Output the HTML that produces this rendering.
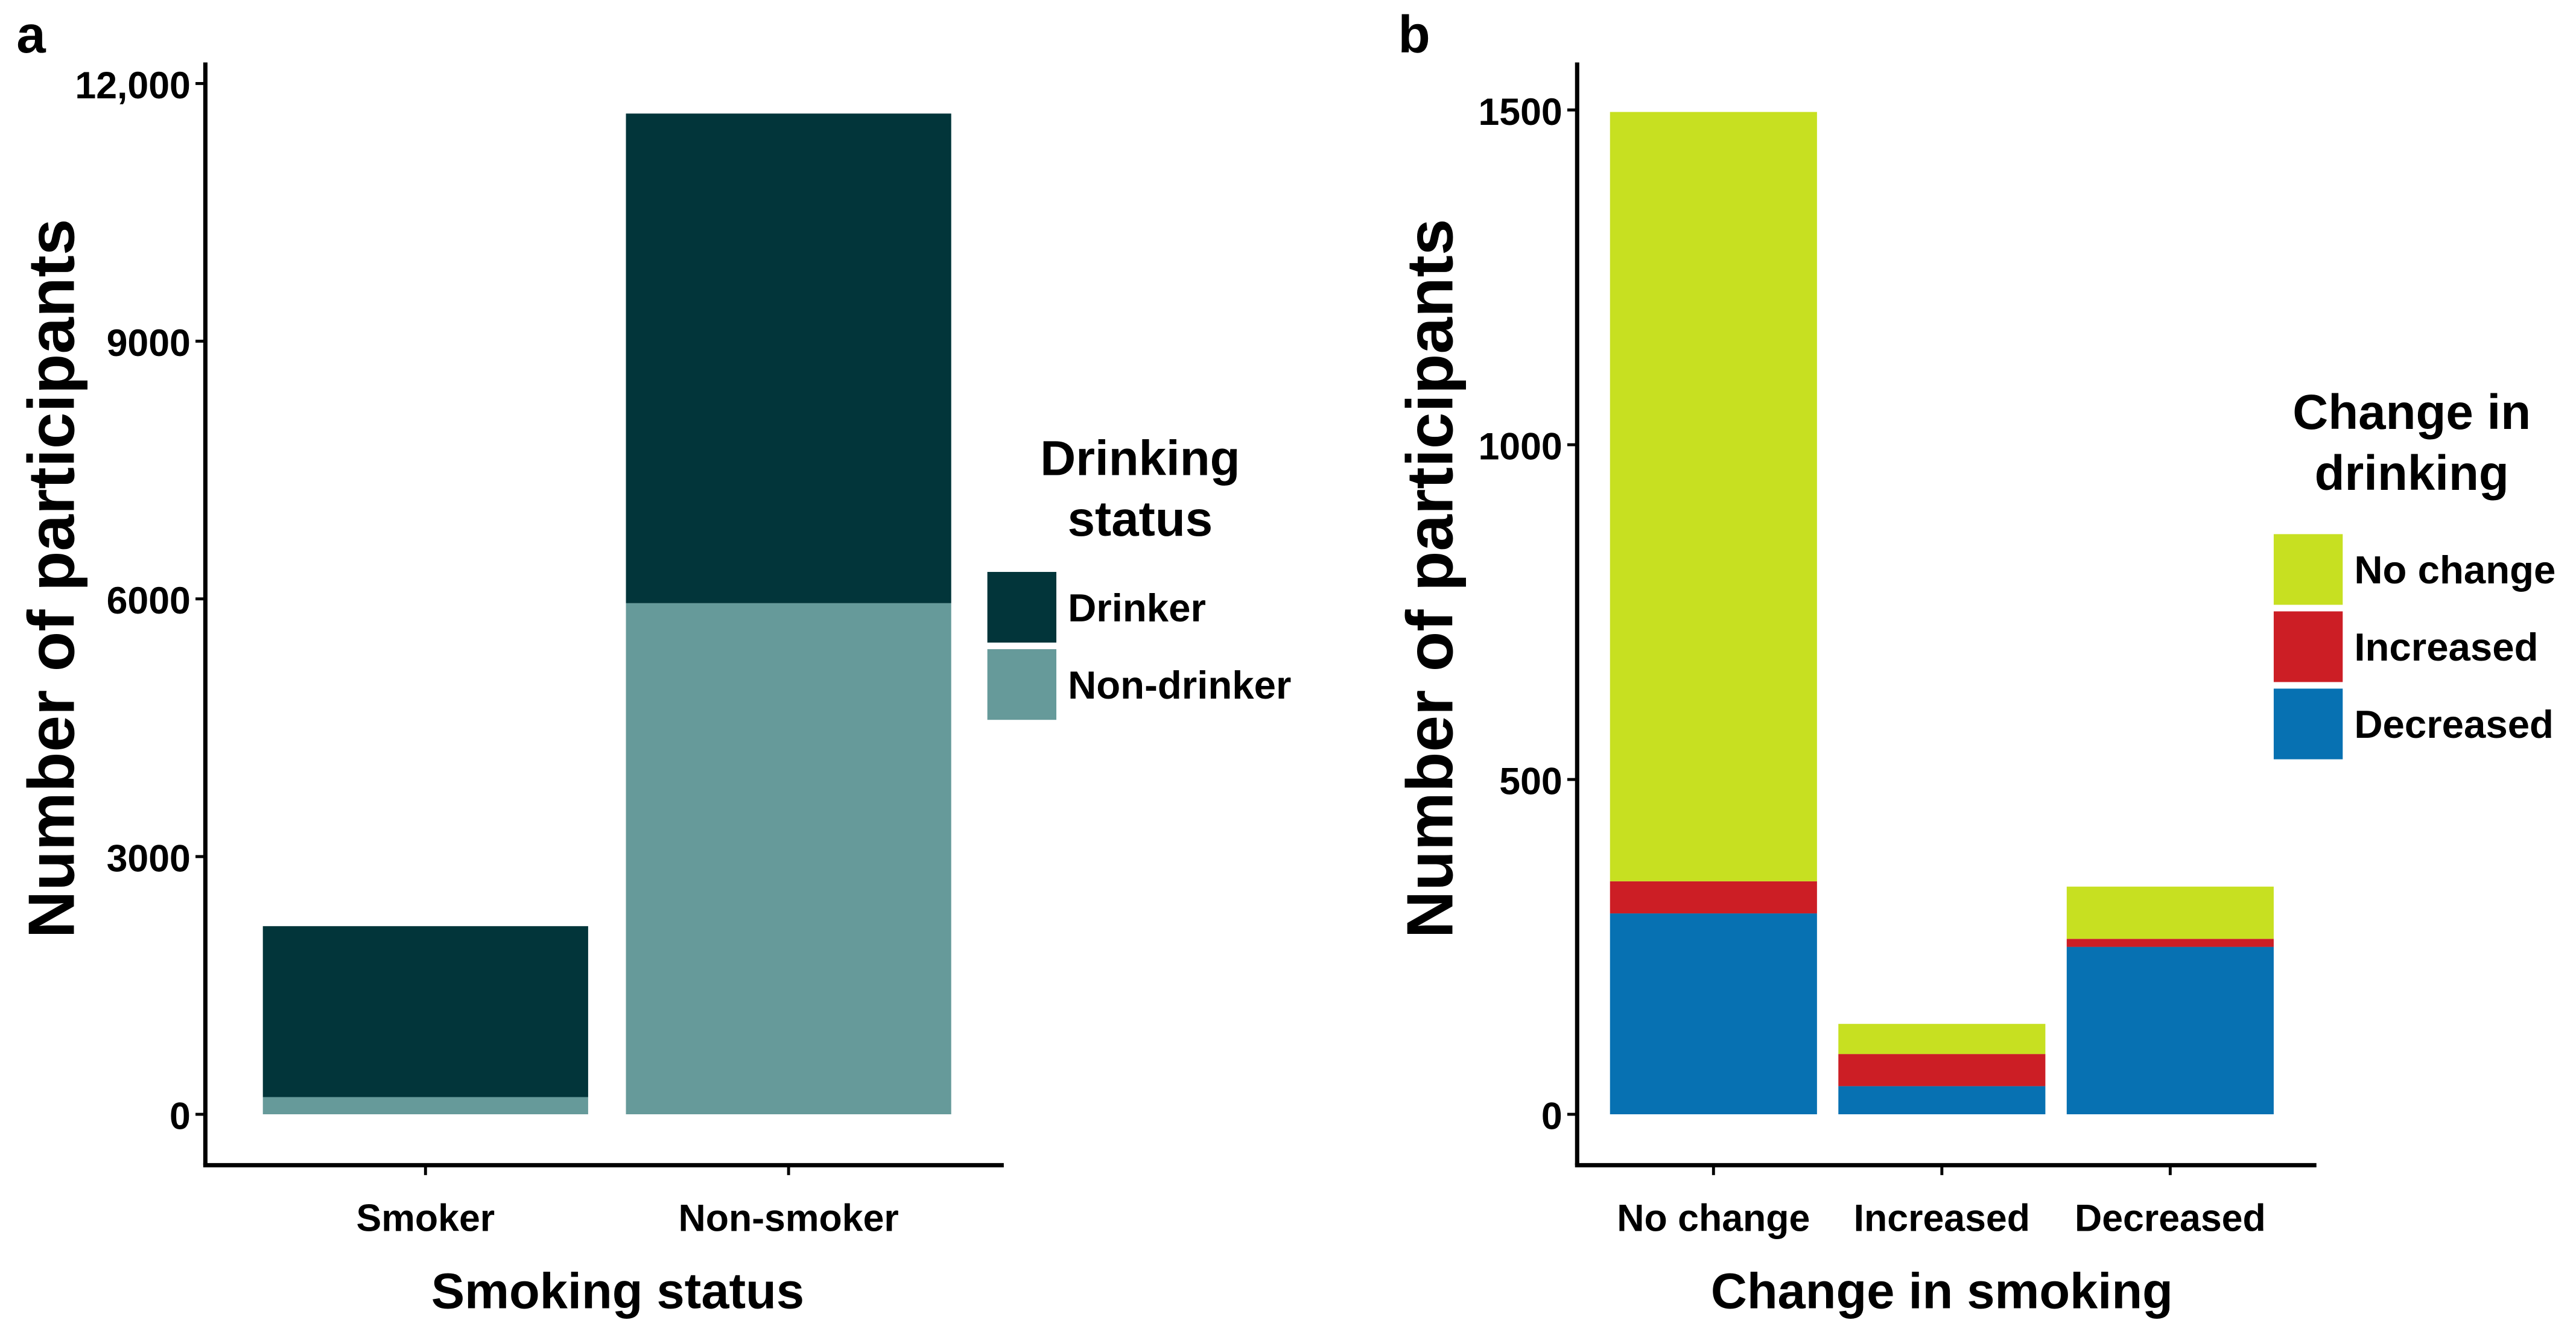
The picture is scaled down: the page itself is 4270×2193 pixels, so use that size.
<!DOCTYPE html>
<html><head><meta charset="utf-8"><style>
html,body{margin:0;padding:0;background:#fff;}
svg{display:block;}
text{font-family:"Liberation Sans",Arial,sans-serif;font-weight:bold;fill:#000;}
</style></head><body>
<svg id="chart" width="4270" height="2193" viewBox="0 0 1568 805" preserveAspectRatio="none" xmlns="http://www.w3.org/2000/svg">
<g id="pa"></g>
<g id="pb"></g>
</svg>
<script>
const catsA = ["Smoker","Non-smoker"];
const drinkerA = [1990, 5700];
const nonDrinkerA = [200, 5950];
const ticksA = [0,3000,6000,9000,12000];
const tickLabelsA = ["0","3000","6000","9000","12,000"];

const catsB = ["No change","Increased","Decreased"];
const decreasedB = [300, 42, 250];
const increasedB = [48, 48, 12];
const noChangeB = [1149, 45, 78];
const ticksB = [0,500,1000,1500];
const tickLabelsB = ["0","500","1000","1500"];

const NS="http://www.w3.org/2000/svg";
function mk(parent,tag,attrs,txt){const e=document.createElementNS(NS,tag);for(const k in attrs)e.setAttribute(k,attrs[k]);if(txt!==undefined)e.textContent=txt;parent.appendChild(e);return e;}

function panel(g,o){
  const y=v=>o.y0-(v/o.tstep)*o.tpx;
  const bw=o.bw, xc=i=>o.x0+o.first+i*o.gap;
  o.cats.forEach((c,i)=>{
    let base=0;
    o.series.forEach(s=>{
      const v=s.vals[i];
      const r=mk(g,'rect',{x:xc(i)-bw/2,y:y(base+v),width:bw,height:y(base)-y(base+v),fill:s.color});
      
      
      base+=v;
    });
  });
  const ya=mk(g,'line',{x1:o.x0,y1:38,x2:o.x0,y2:709,stroke:'#000','stroke-width':2.6});
  
  const xa=mk(g,'line',{x1:o.x0-1.3,y1:709,x2:o.xEnd,y2:709,stroke:'#000','stroke-width':2.6});
  
  o.ticks.forEach((t,i)=>{
    mk(g,'line',{x1:o.x0-6,y1:y(t),x2:o.x0,y2:y(t),stroke:'#000','stroke-width':1.8});
    const tl=mk(g,'text',{x:o.x0-9,y:y(t)+9,'text-anchor':'end','font-size':23},o.tickLabels[i]);
    
  });
  o.cats.forEach((c,i)=>{
    mk(g,'line',{x1:xc(i),y1:709,x2:xc(i),y2:715,stroke:'#000','stroke-width':1.8});
    const tl=mk(g,'text',{x:xc(i),y:749,'text-anchor':'middle','font-size':23},c);
    
  });
  const xt=mk(g,'text',{x:o.xTitleX,y:796,'text-anchor':'middle','font-size':30.5},o.xTitle);
  
  const yt=mk(g,'text',{x:0,y:0,'text-anchor':'middle','font-size':40,transform:`translate(${o.yTitleX},352) rotate(-90)`},'Number of participants');
  
  const pl=mk(g,'text',{x:o.labelX,y:32,'font-size':32},o.label);
  
  o.legTitle.forEach((l,i)=>{
    const t=mk(g,'text',{x:o.legTitleX,y:o.legTitleY+i*37,'text-anchor':'middle','font-size':30},l);
    
  });
  o.legend.forEach((s,i)=>{
    const ky=o.legY+i*o.legStep;
    const r=mk(g,'rect',{x:o.legX,y:ky,width:42,height:43,fill:s.color});
    
    const t=mk(g,'text',{x:o.legX+49,y:ky+30,'font-size':24},s.name);
    
  });
}

panel(document.getElementById('pa'),{
  x0:125,xEnd:611,y0:678,tstep:3000,tpx:156.8,bw:198,first:134,gap:221,
  cats:catsA,ticks:ticksA,tickLabels:tickLabelsA,
  series:[{key:'non-drinker',vals:nonDrinkerA,color:'#669A9A'},{key:'drinker',vals:drinkerA,color:'#02353A'}],
  xTitle:'Smoking status',xTitleX:376,yTitleX:45,label:'a',labelX:10,
  legTitle:['Drinking','status'],legTitleX:694,legTitleY:289,
  legend:[{key:'drinker',name:'Drinker',color:'#02353A'},{key:'non-drinker',name:'Non-drinker',color:'#669A9A'}],
  legX:601,legY:348,legStep:47
});
panel(document.getElementById('pb'),{
  x0:960,xEnd:1410,y0:678,tstep:500,tpx:203.7,bw:126,first:83,gap:139,
  cats:catsB,ticks:ticksB,tickLabels:tickLabelsB,
  series:[{key:'decreased',vals:decreasedB,color:'#0771B2'},{key:'increased',vals:increasedB,color:'#CC1E25'},{key:'no-change',vals:noChangeB,color:'#C7E021'}],
  xTitle:'Change in smoking',xTitleX:1182,yTitleX:884,label:'b',labelX:851,
  legTitle:['Change in','drinking'],legTitleX:1468,legTitleY:261,
  legend:[{key:'no-change',name:'No change',color:'#C7E021'},{key:'increased',name:'Increased',color:'#CC1E25'},{key:'decreased',name:'Decreased',color:'#0771B2'}],
  legX:1384,legY:325,legStep:47
});
</script>
</body></html>
